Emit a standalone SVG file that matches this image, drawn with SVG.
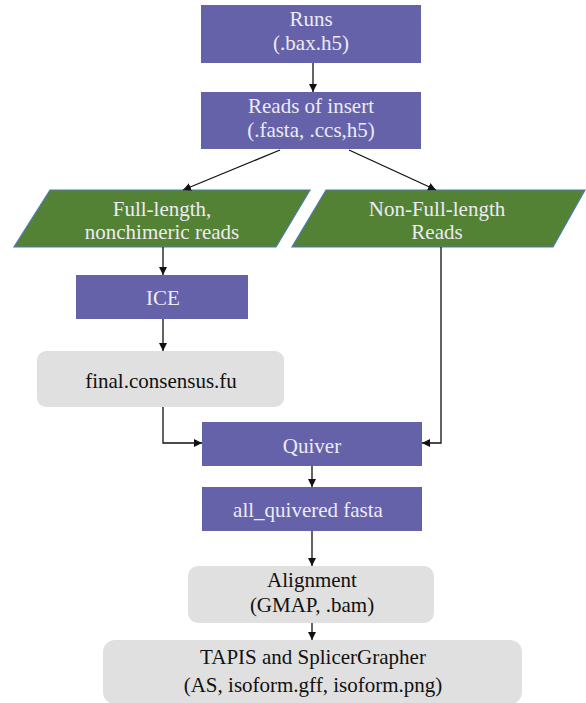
<svg xmlns="http://www.w3.org/2000/svg" width="586" height="703" viewBox="0 0 586 703">
<style>
.p{fill:#6662aa}
.g{fill:#e0e0e0}
.gr{fill:#548235;stroke:#4a7bb0;stroke-width:1.2}
text{font-family:'Liberation Serif','Times New Roman',serif;font-size:21px;text-anchor:middle}
.lt{fill:#ecebf3}
.dk{fill:#111}
.c{fill:none;stroke:#111;stroke-width:1.3}
</style>
<defs>
<marker id="a" viewBox="0 0 10 10" refX="10" refY="5" markerWidth="8" markerHeight="8" markerUnits="userSpaceOnUse" orient="auto">
<path d="M0,0 L10,5 L0,10 z" fill="#111"/>
</marker>
</defs>
<g id="runs"><rect class="p" x="201" y="5" width="220" height="58"/><text class="lt" x="311" y="26">Runs</text><text class="lt" x="311" y="50">(.bax.h5)</text></g>
<g id="reads"><rect class="p" x="201" y="92" width="220" height="57"/><text class="lt" x="311" y="113">Reads of insert</text><text class="lt" x="311" y="137">(.fasta, .ccs,h5)</text></g>
<g id="fl"><polygon class="gr" points="50,190 310,190 276,247 14,247"/><text class="lt" x="162" y="216">Full-length,</text><text class="lt" x="162" y="239">nonchimeric reads</text></g>
<g id="nfl"><polygon class="gr" points="326,190 585,190 553,247 292,247"/><text class="lt" x="437" y="216">Non-Full-length</text><text class="lt" x="437" y="239">Reads</text></g>
<g id="ice"><rect class="p" x="76" y="275" width="172" height="44"/><text class="lt" x="163" y="305">ICE</text></g>
<g id="final"><rect class="g" x="37" y="351" width="247" height="56" rx="9"/><text class="dk" x="161" y="388">final.consensus.fu</text></g>
<g id="quiver"><rect class="p" x="202" y="422" width="220" height="44"/><text class="lt" x="312" y="453">Quiver</text></g>
<g id="allq"><rect class="p" x="202" y="487" width="220" height="44"/><text class="lt" x="308" y="517">all_quivered fasta</text></g>
<g id="align"><rect class="g" x="188" y="566" width="246" height="57" rx="10"/><text class="dk" x="312" y="587">Alignment</text><text class="dk" x="312" y="612">(GMAP, .bam)</text></g>
<g id="tapis"><rect class="g" x="103" y="640" width="419" height="64" rx="12"/><text class="dk" x="313" y="664">TAPIS and SplicerGrapher</text><text class="dk" x="313" y="692">(AS, isoform.gff, isoform.png)</text></g>
<g id="connectors">
<path class="c" d="M313,63 V92" marker-end="url(#a)"/>
<path class="c" d="M280,150 L183,190" marker-end="url(#a)"/>
<path class="c" d="M349,150 L436,190" marker-end="url(#a)"/>
<path class="c" d="M163,247 V275" marker-end="url(#a)"/>
<path class="c" d="M163,319 V351" marker-end="url(#a)"/>
<path class="c" d="M163,407 V443 H202" marker-end="url(#a)"/>
<path class="c" d="M441,247 V443 H422" marker-end="url(#a)"/>
<path class="c" d="M312,466 V487" marker-end="url(#a)"/>
<path class="c" d="M312,531 V566" marker-end="url(#a)"/>
<path class="c" d="M312,623 V640" marker-end="url(#a)"/>
</g>
</svg>
